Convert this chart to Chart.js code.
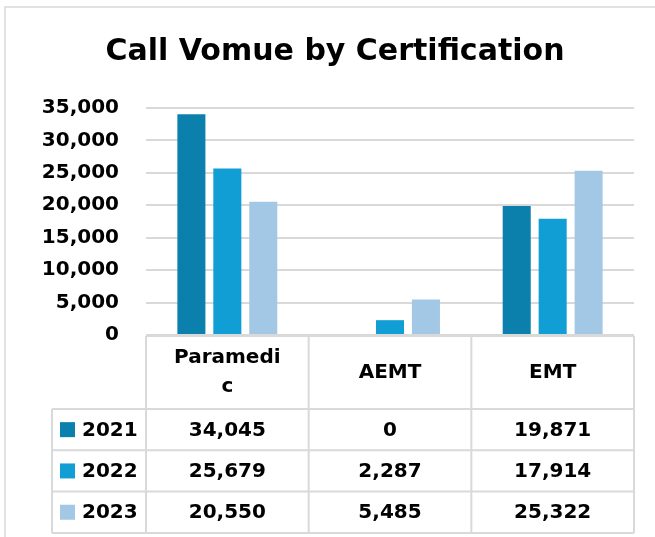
<!DOCTYPE html>
<html lang="en">

<head>
    <meta charset="UTF-8">
    <title>Call Vomue by Certification</title>
    <script src="https://cdn.jsdelivr.net/npm/chart.js"></script>
    <style>
        html, body { margin: 0; padding: 0; background: #fff; }
    </style>
</head>

<body>
    <canvas id="callChart" width="655" height="537"></canvas>

    <script>
        // data
        const categories = ['Paramedic', 'AEMT', 'EMT'];
        const headerLines = [['Paramedi', 'c'], ['AEMT'], ['EMT']]; // wrapped like in the original table
        const years = ['2021', '2022', '2023'];
        const values2021 = [34045, 0, 19871];
        const values2022 = [25679, 2287, 17914];
        const values2023 = [20550, 5485, 25322];
        const yTicks = [0, 5000, 10000, 15000, 20000, 25000, 30000, 35000];

        const seriesValues = [values2021, values2022, values2023];
        const seriesColors = ['#0c80ac', '#109ed5', '#a3c8e6'];
        const lineColor = '#d9d9d9';
        const numFont = 'bold 20px "DejaVu Sans"';

        const fmt = v => v.toLocaleString('en-US');

        // outer frame of the chart object
        const framePlugin = {
            id: 'frame',
            beforeDraw(chart) {
                const ctx = chart.ctx;
                ctx.save();
                ctx.fillStyle = '#fff';
                ctx.fillRect(0, 0, chart.width, chart.height);
                ctx.strokeStyle = lineColor;
                ctx.lineWidth = 1.5;
                ctx.strokeRect(5, 7, chart.width + 20, chart.height + 20);
                ctx.restore();
            }
        };

        // data table under the plot, columns follow the x scale
        const tablePlugin = {
            id: 'dataTable',
            afterDraw(chart) {
                const ctx = chart.ctx;
                const x = chart.scales.x;
                const area = chart.chartArea;
                const half = (x.getPixelForValue(1) - x.getPixelForValue(0)) / 2;
                const edges = categories.map((c, i) => x.getPixelForValue(i) - half);
                edges.push(x.getPixelForValue(categories.length - 1) + half);
                const right = edges[edges.length - 1];

                const top = area.bottom + 1;
                const headBottom = top + 73;
                const rowH = 41.3;
                const legendLeft = 52;
                const bottom = headBottom + rowH * years.length;

                ctx.save();
                ctx.strokeStyle = lineColor;
                ctx.lineWidth = 2;
                ctx.beginPath();
                ctx.moveTo(edges[0], top);
                ctx.lineTo(right, top);
                edges.forEach(e => {
                    ctx.moveTo(e, top);
                    ctx.lineTo(e, bottom);
                });
                for (let r = 0; r <= years.length; r++) {
                    const y = headBottom + r * rowH;
                    ctx.moveTo(legendLeft, y);
                    ctx.lineTo(right, y);
                }
                ctx.moveTo(legendLeft, headBottom);
                ctx.lineTo(legendLeft, bottom);
                ctx.stroke();

                ctx.fillStyle = '#000';
                ctx.font = numFont;
                ctx.textAlign = 'center';
                ctx.textBaseline = 'middle';

                // header cells
                const headMid = (top + headBottom) / 2;
                headerLines.forEach((lines, i) => {
                    const cx = x.getPixelForValue(i);
                    const y0 = headMid - (lines.length - 1) * 29 / 2;
                    lines.forEach((t, k) => ctx.fillText(t, cx, y0 + k * 29));
                });

                // series rows
                years.forEach((yr, r) => {
                    const cy = headBottom + r * rowH + rowH / 2;
                    ctx.fillStyle = seriesColors[r];
                    ctx.fillRect(60, cy - 7.5, 15, 15);
                    ctx.fillStyle = '#000';
                    ctx.textAlign = 'left';
                    ctx.fillText(yr, 82, cy + 1);
                    ctx.textAlign = 'center';
                    seriesValues[r].forEach((v, i) => {
                        ctx.fillText(fmt(v), x.getPixelForValue(i), cy + 1);
                    });
                });
                ctx.restore();
            }
        };

        new Chart(document.getElementById('callChart'), {
            type: 'bar',
            data: {
                labels: categories,
                datasets: years.map((yr, i) => ({
                    label: yr,
                    data: seriesValues[i],
                    backgroundColor: seriesColors[i],
                    borderWidth: 0,
                    categoryPercentage: 0.663,
                    barPercentage: 0.78
                }))
            },
            options: {
                responsive: false,
                devicePixelRatio: 1,
                animation: false,
                layout: {
                    padding: { top: 7, left: 36, right: 21, bottom: 202 }
                },
                plugins: {
                    legend: { display: false },
                    tooltip: { enabled: false },
                    title: {
                        display: true,
                        text: 'Call Vomue by Certification',
                        color: '#000',
                        font: { family: '"DejaVu Sans", sans-serif', size: 30, weight: 'bold' },
                        padding: { top: 27, bottom: 38 }
                    }
                },
                scales: {
                    x: {
                        display: false
                    },
                    y: {
                        min: 0,
                        max: 35000,
                        afterBuildTicks: axis => {
                            axis.ticks = yTicks.map(v => ({ value: v }));
                        },
                        afterFit: axis => { axis.width = 110; },
                        border: { display: false },
                        grid: { color: lineColor, lineWidth: 2, drawTicks: false },
                        ticks: {
                            color: '#000',
                            padding: 27,
                            font: { family: '"DejaVu Sans"', size: 20, weight: 'bold' },
                            callback: v => fmt(v)
                        }
                    }
                }
            },
            plugins: [framePlugin, tablePlugin]
        });
    </script>
</body>

</html>
